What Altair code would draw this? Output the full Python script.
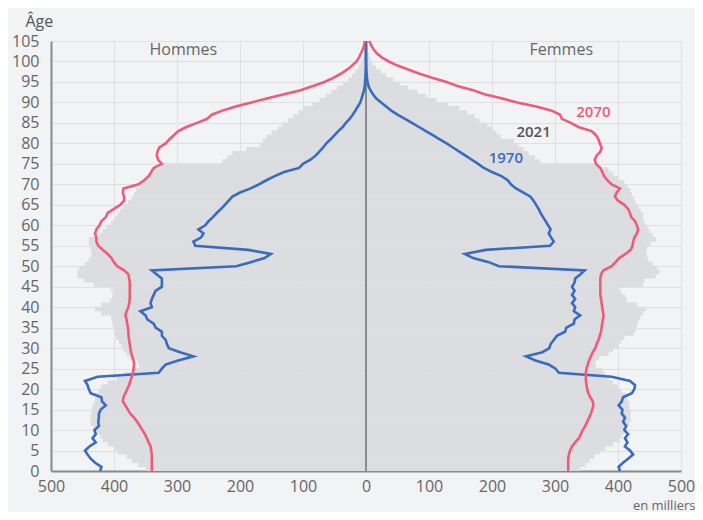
import altair as alt
import pandas as pd

# ---- data (thousands) ----
bar_ages = list(range(105))   # 2021 bars: age a spans [a, a+1]
line_ages = list(range(106))

men_2021 = [
    350, 362, 372, 380, 395, 400, 410, 418, 422, 428,
    433, 437, 437, 437, 435, 435, 432, 430, 428, 425,
    420, 410, 395, 385, 370, 360, 362, 375, 380, 385,
    388, 392, 397, 400, 400, 402, 403, 405, 420, 430,
    420, 407, 403, 402, 405, 432, 448, 458, 458, 455,
    446, 440, 436, 436, 437, 440, 440, 424, 418, 412,
    405, 400, 395, 390, 385, 378, 372, 368, 365, 360,
    356, 350, 340, 335, 325, 228, 220, 212, 190, 168,
    164, 158, 150, 140, 133, 124, 115, 107, 98, 85,
    74, 64, 55, 46, 36, 28, 22, 17, 12, 8,
    5, 3, 2, 1, 0.5,
]
women_2021 = [
    340, 348, 355, 362, 372, 380, 392, 403, 406, 410,
    415, 418, 420, 420, 420, 418, 418, 415, 412, 405,
    400, 392, 385, 380, 376, 365, 364, 370, 385, 392,
    400, 405, 410, 425, 428, 430, 432, 435, 440, 445,
    430, 414, 412, 405, 402, 440, 442, 460, 466, 462,
    455, 448, 446, 445, 446, 452, 460, 455, 450, 447,
    442, 440, 440, 436, 432, 428, 425, 422, 420, 415,
    410, 400, 392, 385, 370, 276, 268, 258, 250, 242,
    235, 214, 207, 200, 192, 180, 172, 160, 148, 130,
    112, 96, 82, 67, 54, 43, 32, 24, 16, 10,
    7, 5, 3, 2, 1,
]
men_1970 = [
    422, 420, 430, 437, 442, 446, 439, 429, 434, 429,
    431, 424, 425, 424, 424, 421, 413, 419, 420, 437,
    440, 442, 446, 426, 329, 324, 318, 298, 274, 295,
    313, 316, 318, 324, 324, 334, 337, 347, 350, 358,
    340, 342, 340, 337, 334, 324, 324, 324, 332, 340,
    206, 183, 161, 151, 187, 271, 274, 262, 258, 266,
    255, 250, 243, 237, 230, 224, 218, 212, 200, 183,
    170, 158, 145, 130, 106, 100, 88, 80, 74, 68,
    63, 56, 50, 44, 37, 32, 26, 21, 17, 13,
    9, 7, 5, 3, 2, 1.5, 1, 0.7, 0.5, 0.3,
    0.2, 0.1, 0.1, 0.1, 0.1, 0,
]
women_1970 = [
    403, 401, 408, 416, 424, 419, 411, 415, 411, 416,
    410, 413, 408, 411, 406, 407, 401, 406, 408, 422,
    426, 427, 419, 390, 306, 301, 290, 269, 254, 280,
    291, 293, 298, 303, 316, 318, 330, 331, 340, 330,
    332, 327, 332, 327, 331, 327, 331, 332, 340, 347,
    211, 195, 170, 157, 190, 292, 298, 294, 290, 293,
    289, 285, 281, 277, 274, 270, 266, 261, 250, 238,
    230, 225, 215, 200, 187, 178, 168, 158, 148, 138,
    128, 117, 106, 95, 84, 73, 62, 50, 40, 32,
    24, 16, 11, 7, 4, 2.5, 1.5, 1, 0.6, 0.4,
    0.2, 0.1, 0.1, 0, 0, 0,
]
men_2070 = [
    340, 340, 340, 340, 340, 341, 342, 345, 348, 351,
    355, 359, 363, 368, 374, 378, 382, 386, 385, 382,
    379, 376, 374, 372, 370, 369, 368, 369, 371, 373,
    374, 375, 376, 377, 377, 378, 379, 380, 382, 380,
    377, 376, 375, 375, 375, 375, 375, 376, 377, 384,
    395, 400, 404, 410, 418, 425, 428, 428, 430, 428,
    423, 420, 413, 410, 400, 390, 384, 384, 386, 385,
    361, 352, 345, 341, 337, 324, 330, 332, 331, 328,
    318, 312, 305, 298, 285, 268, 252, 245, 228, 207,
    182, 156, 130, 104, 84, 66, 52, 40, 30, 22,
    15, 11, 8, 5, 3, 2,
]
women_2070 = [
    321, 321, 321, 321, 322, 324, 327, 332, 338, 341,
    344, 348, 351, 354, 357, 359, 361, 360, 356, 353,
    351, 350, 349, 349, 349, 350, 352, 354, 357, 360,
    364, 366, 369, 371, 373, 374, 375, 376, 377, 376,
    375, 374, 373, 372, 372, 372, 372, 372, 373, 377,
    390, 396, 402, 412, 420, 423, 424, 426, 430, 432,
    430, 427, 421, 419, 416, 410, 400, 395, 398, 403,
    390, 383, 378, 375, 372, 365, 363, 366, 372, 374,
    371, 369, 365, 358, 337, 325, 311, 308, 295, 270,
    240, 215, 188, 170, 145, 128, 105, 85, 68, 50,
    36, 25, 17, 12, 8, 5,
]

RED = "#ee5c79"
BLUE = "#3a6bbf"
GREY_BAR = "#dcdde0"

bars = pd.DataFrame({
    "age": bar_ages + bar_ages,
    "value": [-v for v in men_2021] + women_2021,
})
# slight overlap between consecutive bars hides anti-aliasing seams
bars["age2"] = bars["age"] + 1.12


def line_df(men, women):
    return pd.DataFrame({
        "age": line_ages + line_ages,
        "sex": ["H"] * len(line_ages) + ["F"] * len(line_ages),
        "value": [-v for v in men] + women,
    })


l1970 = line_df(men_1970, women_1970)
l2070 = line_df(men_2070, women_2070)
one = pd.DataFrame({"k": [0]})

xscale = alt.Scale(domain=[-500, 500], nice=False, zero=False)
yscale = alt.Scale(domain=[0, 105], nice=False)

x_axis = alt.Axis(
    values=list(range(-500, 501, 100)),
    labelExpr="abs(datum.value)",
    labelFlush=False, labelOverlap=False,
    title="en milliers",
    titleX=644, titleY=38, titleAlign="right", titleBaseline="alphabetic",
    titleFontSize=13, titleFontWeight="normal", titleColor="#666",
    grid=True, gridColor="#dfe0e4", gridWidth=1,
    domainColor="#8a8a8a", domainWidth=2,
    ticks=False, labelPadding=7, labelFontSize=16, labelColor="#666",
)
y_axis = alt.Axis(
    values=list(range(0, 106, 5)),
    tickCount=22,
    labelFlush=False, labelOverlap=False,
    title="Âge",
    titleAngle=0, titleX=-26, titleY=-15, titleAlign="left",
    titleBaseline="alphabetic", titleFontSize=16, titleFontWeight="normal",
    titleColor="#555",
    grid=True, gridColor="#dfe0e4", gridWidth=1,
    domainColor="#8a8a8a", domainWidth=2,
    ticks=False, labelPadding=12, labelFontSize=16, labelColor="#666",
)

X = alt.X("value:Q", scale=xscale, axis=x_axis)
Y = alt.Y("age:Q", scale=yscale, axis=y_axis)

bar_layer = alt.Chart(bars).mark_bar(color=GREY_BAR, strokeWidth=0).encode(
    x=X,
    x2=alt.datum(0),
    y=Y,
    y2="age2:Q",
)

center = alt.Chart(one).mark_rule(color="#555", strokeWidth=1.2).encode(
    x=alt.datum(0)
)


def line_layer(df, color):
    return alt.Chart(df).mark_line(color=color, strokeWidth=2.6).encode(
        x=X,
        y=Y,
        detail="sex:N",
        order="age:Q",
    )


lines70 = line_layer(l1970, BLUE)
lines2070 = line_layer(l2070, RED)


def label(txt, xv, yv, color, weight="normal"):
    return alt.Chart(one).mark_text(
        text=txt, color=color, fontSize=16 if weight == "normal" else 15,
        fontWeight=weight, align="center", baseline="middle",
    ).encode(
        x=alt.X(datum=xv, scale=xscale, axis=x_axis),
        y=alt.Y(datum=yv, scale=yscale, axis=y_axis),
    )


texts = [
    label("Hommes", -290, 102.8, "#666"),
    label("Femmes", 310, 102.8, "#666"),
    label("2070", 361, 87.7, RED, 600),
    label("2021", 266, 82.8, "#555", 600),
    label("1970", 222, 76.4, BLUE, 600),
]

chart = alt.layer(bar_layer, center, lines70, lines2070, *texts).properties(
    width=630, height=430,
    background="#f2f3f5",
    autosize=alt.AutoSizeParams(type="none"),
    padding={"left": 43, "top": 33, "right": 14, "bottom": 41},
).configure(
    font="Open Sans",
).configure_view(stroke=None)

chart.save("out.html", embed_options={"renderer": "svg", "actions": False})
